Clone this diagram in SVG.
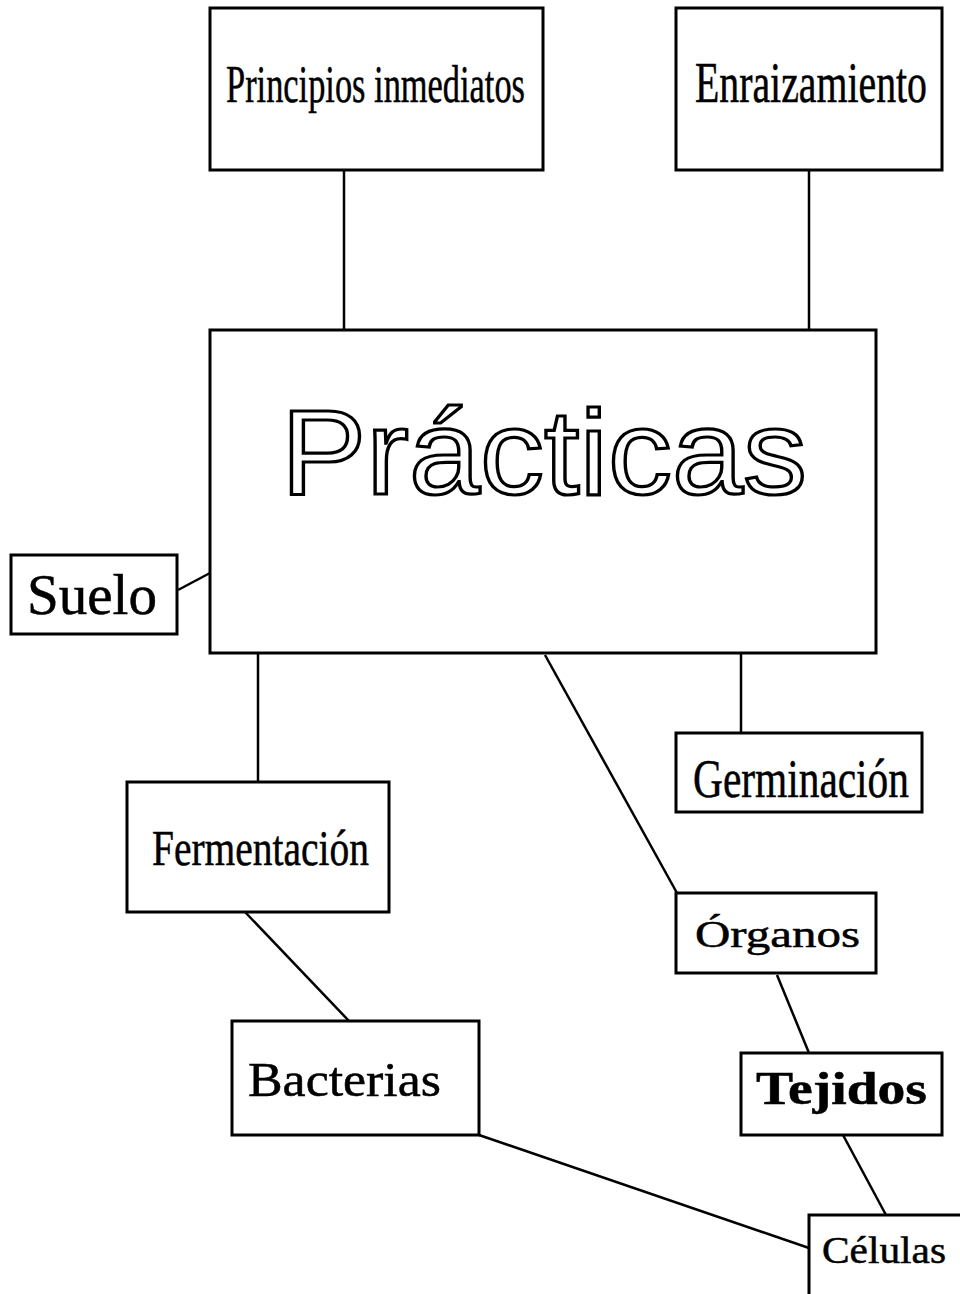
<svg xmlns="http://www.w3.org/2000/svg" width="960" height="1294" viewBox="0 0 960 1294">
<style>
.b{fill:#fff;stroke:#000;stroke-width:3}
.t{fill:#000;stroke:#000;stroke-width:0.5;font-family:"Liberation Serif","Times New Roman",serif}
.c{stroke:#000;stroke-width:2.5;fill:none}
</style>
<rect x="0" y="0" width="960" height="1294" fill="#fff"/>
<g id="connectors">
<line class="c" x1="344" y1="170" x2="344" y2="330" stroke-width="3"/>
<line class="c" x1="809" y1="170" x2="809" y2="330" stroke-width="3"/>
<line class="c" x1="178" y1="590" x2="210" y2="573"/>
<line class="c" x1="258" y1="653" x2="258" y2="782"/>
<line class="c" x1="245" y1="912" x2="349" y2="1021"/>
<line class="c" x1="479" y1="1135" x2="809" y2="1248"/>
<line class="c" x1="545" y1="655" x2="677" y2="893"/>
<line class="c" x1="741" y1="653" x2="741" y2="733"/>
<line class="c" x1="777" y1="975" x2="809" y2="1053"/>
<line class="c" x1="843" y1="1135" x2="886" y2="1215"/>
</g>
<g id="principios">
<rect class="b" x="210" y="8" width="333" height="162"/>
<text class="t" x="226" y="102" font-size="52" textLength="299" lengthAdjust="spacingAndGlyphs">Principios inmediatos</text>
</g>
<g id="enraizamiento">
<rect class="b" x="676" y="8" width="266" height="162"/>
<text class="t" x="695" y="102" font-size="56" textLength="232" lengthAdjust="spacingAndGlyphs">Enraizamiento</text>
</g>
<g id="practicas">
<rect class="b" x="210" y="330" width="666" height="323"/>
<text x="281" y="494" font-size="120" font-family="'Liberation Sans',Arial,sans-serif" fill="#fff" stroke="#000" stroke-width="3.2" textLength="526" lengthAdjust="spacingAndGlyphs">Prácticas</text>
</g>
<g id="suelo">
<rect class="b" x="11" y="555" width="166" height="79" stroke-width="3.5"/>
<text class="t" x="27" y="614" font-size="56" textLength="130" lengthAdjust="spacingAndGlyphs">Suelo</text>
</g>
<g id="fermentacion">
<rect class="b" x="127" y="782" width="262" height="130" stroke-width="2"/>
<text class="t" x="152" y="865" font-size="50" textLength="217" lengthAdjust="spacingAndGlyphs">Fermentación</text>
</g>
<g id="bacterias">
<rect class="b" x="232" y="1021" width="247" height="114" stroke-width="2"/>
<text class="t" x="248" y="1096" font-size="48" textLength="193" lengthAdjust="spacingAndGlyphs">Bacterias</text>
</g>
<g id="germinacion">
<rect class="b" x="676" y="733" width="246" height="79"/>
<text class="t" x="693" y="797" font-size="54" textLength="216" lengthAdjust="spacingAndGlyphs">Germinación</text>
</g>
<g id="organos">
<rect class="b" x="676" y="893" width="200" height="80"/>
<text class="t" x="695" y="947" font-size="38" textLength="165" lengthAdjust="spacingAndGlyphs">Órganos</text>
</g>
<g id="tejidos">
<rect class="b" x="741" y="1053" width="201" height="82"/>
<text class="t" x="756" y="1104" font-size="46" font-weight="bold" textLength="171" lengthAdjust="spacingAndGlyphs">Tejidos</text>
</g>
<g id="celulas">
<rect class="b" x="809" y="1215" width="160" height="100"/>
<text class="t" x="822" y="1263" font-size="37" textLength="124" lengthAdjust="spacingAndGlyphs">Células</text>
</g>
</svg>
